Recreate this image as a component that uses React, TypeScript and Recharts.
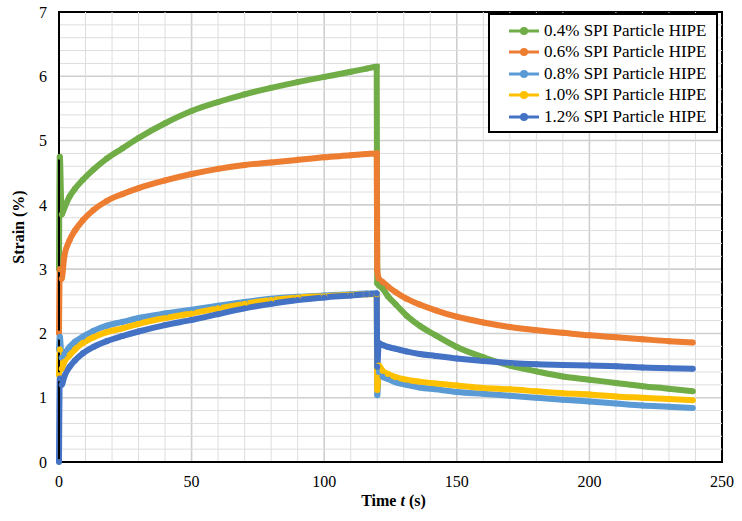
import React from "react";
import {
  LineChart,
  Line,
  XAxis,
  YAxis,
  CartesianGrid,
  Legend,
  ReferenceArea,
  ReferenceLine,
} from "recharts";

const SERIF = "'Times New Roman', 'Liberation Serif', serif";

// time (s), shared by every series
const times = [
  0, 0.3, 1, 2, 4, 6, 9, 13, 18, 24, 30, 40, 50, 60, 70, 80, 90, 100, 110, 116,
  119.8, 120, 120.6, 122, 124, 127, 131, 136, 142, 150, 160, 170, 180, 190, 200,
  210, 220, 230, 239,
];

// strain (%)
const spi04 = [
  3.0, 4.75, 3.85, 3.95, 4.13, 4.25, 4.39, 4.55, 4.72, 4.88, 5.04, 5.27, 5.46,
  5.6, 5.72, 5.82, 5.91, 5.99, 6.07, 6.12, 6.15, 2.78, 2.75, 2.7, 2.58, 2.45,
  2.28, 2.12, 1.97, 1.79, 1.63, 1.5, 1.41, 1.33, 1.28, 1.23, 1.18, 1.14, 1.1,
];
const spi06 = [
  2.0, 3.0, 2.85, 3.2, 3.45, 3.6, 3.76, 3.92, 4.06, 4.17, 4.26, 4.38, 4.48,
  4.56, 4.62, 4.66, 4.7, 4.74, 4.77, 4.79, 4.8, 2.99, 2.85, 2.8, 2.73, 2.64,
  2.54, 2.45, 2.36, 2.26, 2.17, 2.1, 2.05, 2.01, 1.97, 1.94, 1.91, 1.88, 1.86,
];
const spi08 = [
  1.75, 1.95, 1.62, 1.68, 1.79, 1.87, 1.95, 2.04, 2.12, 2.18, 2.24, 2.31, 2.37,
  2.43, 2.49, 2.54, 2.57, 2.59, 2.61, 2.62, 2.62, 1.04, 1.4, 1.33, 1.29, 1.24,
  1.2, 1.16, 1.13, 1.09, 1.06, 1.03, 1.0, 0.97, 0.94, 0.91, 0.88, 0.86, 0.84,
];
const spi10 = [
  1.35, 1.75, 1.45, 1.56, 1.66, 1.75, 1.85, 1.94, 2.02, 2.08, 2.15, 2.24, 2.31,
  2.39, 2.46, 2.52, 2.56, 2.58, 2.6, 2.61, 2.61, 1.12, 1.5, 1.42, 1.37, 1.32,
  1.28, 1.25, 1.22, 1.19, 1.15, 1.13, 1.1, 1.07, 1.05, 1.02, 1.0, 0.98, 0.96,
];
const spi12 = [
  0, 1.3, 1.2, 1.33, 1.48, 1.58, 1.69, 1.79, 1.88, 1.96, 2.03, 2.13, 2.21, 2.3,
  2.39, 2.46, 2.52, 2.56, 2.59, 2.61, 2.62, 1.48, 1.85, 1.82, 1.79, 1.76, 1.72,
  1.68, 1.65, 1.61, 1.57, 1.54, 1.52, 1.51, 1.5, 1.49, 1.47, 1.46, 1.45,
];

const xTicks = [0, 50, 100, 150, 200, 250];
const yTicks = [0, 1, 2, 3, 4, 5, 6, 7];
// minor gridlines between the major ones
const xMinorTicks = [10, 20, 30, 40, 60, 70, 80, 90, 110, 120, 130, 140, 160, 170, 180, 190, 210, 220, 230, 240];
const yMinorTicks = [0.2, 0.4, 0.6, 0.8, 1.2, 1.4, 1.6, 1.8, 2.2, 2.4, 2.6, 2.8, 3.2, 3.4, 3.6, 3.8, 4.2, 4.4, 4.6, 4.8, 5.2, 5.4, 5.6, 5.8, 6.2, 6.4, 6.6, 6.8];

const series = [
  { key: "spi04", name: "0.4% SPI Particle HIPE", color: "#70AD47", values: spi04 },
  { key: "spi06", name: "0.6% SPI Particle HIPE", color: "#ED7D31", values: spi06 },
  { key: "spi08", name: "0.8% SPI Particle HIPE", color: "#5B9BD5", values: spi08 },
  { key: "spi10", name: "1.0% SPI Particle HIPE", color: "#FFC000", values: spi10 },
  { key: "spi12", name: "1.2% SPI Particle HIPE", color: "#4472C4", values: spi12 },
];

const data = times.map((t, i) => {
  const row: Record<string, number> = { t };
  series.forEach((s) => {
    row[s.key] = s.values[i];
  });
  return row;
});

function LegendBox({ payload }: any) {
  return (
    <div
      style={{
        border: "2px solid #000",
        background: "#fff",
        padding: "5px 0 3px 19px",
        fontFamily: SERIF,
        fontSize: 17,
        color: "#000",
      }}
    >
      {(payload || []).map((p: any) => (
        <div key={p.value} style={{ display: "flex", alignItems: "center", height: 21.5 }}>
          <svg width={30} height={10} style={{ marginRight: 5 }}>
            <line x1={0} y1={5} x2={30} y2={5} stroke={p.color} strokeWidth={3} />
            <circle cx={15} cy={5} r={4} fill={p.color} />
          </svg>
          <span>{p.value}</span>
        </div>
      ))}
    </div>
  );
}

function XTitle({ viewBox }: any) {
  const { x, y, width } = viewBox;
  return (
    <text
      x={x + width / 2 + 3}
      y={y + 38}
      textAnchor="middle"
      dominantBaseline="central"
      fontFamily={SERIF}
      fontSize={16}
      fontWeight="bold"
      fill="#000"
    >
      Time <tspan fontStyle="italic">t</tspan> (s)
    </text>
  );
}

function YTitle({ viewBox }: any) {
  const { x, y, height } = viewBox;
  const cx = x + 18;
  const cy = y + height / 2 - 10;
  return (
    <text
      x={cx}
      y={cy}
      transform={`rotate(-90, ${cx}, ${cy})`}
      textAnchor="middle"
      dominantBaseline="central"
      fontFamily={SERIF}
      fontSize={16}
      fontWeight="bold"
      fill="#000"
    >
      Strain (%)
    </text>
  );
}

export default function App() {
  return (
    <div style={{ position: "fixed", left: 0, top: 0, width: 742, height: 521, background: "#fff" }}>
      <LineChart width={742} height={521} data={data} margin={{ top: 12, right: 20, left: 0, bottom: 0 }}>
        <XAxis
          dataKey="t"
          type="number"
          domain={[0, 250]}
          ticks={xTicks}
          height={59}
          tickLine={false}
          tickSize={0}
          tickMargin={14}
          axisLine={{ stroke: "#000", strokeWidth: 2 }}
          tick={{ fill: "#000", fontSize: 16, fontFamily: SERIF }}
          label={{ content: XTitle }}
        />
        <YAxis
          type="number"
          domain={[0, 7]}
          ticks={yTicks}
          width={59}
          tickLine={false}
          tickSize={0}
          tickMargin={12}
          axisLine={{ stroke: "#000", strokeWidth: 2 }}
          tick={{ fill: "#000", fontSize: 16, fontFamily: SERIF }}
          label={{ content: YTitle }}
        />
        {xMinorTicks.map((v) => (
          <ReferenceLine key={`mx${v}`} x={v} stroke="#dedede" strokeWidth={1} />
        ))}
        {yMinorTicks.map((v) => (
          <ReferenceLine key={`my${v}`} y={v} stroke="#dedede" strokeWidth={1} />
        ))}
        <CartesianGrid stroke="#cfcfcf" strokeWidth={1.6} />
        <ReferenceArea x1={0} x2={250} y1={0} y2={7} fill="none" stroke="#000" strokeWidth={2} />
        {series.map((s) => (
          <Line
            key={s.key}
            dataKey={s.key}
            name={s.name}
            type="monotone"
            stroke={s.color}
            strokeWidth={6}
            dot={{ r: 3, fill: s.color, stroke: s.color, strokeWidth: 0 }}
            activeDot={false}
            isAnimationActive={false}
          />
        ))}
        <Legend
          layout="horizontal"
          verticalAlign="middle"
          align="center"
          content={LegendBox}
          wrapperStyle={{ position: "absolute", left: 488, top: 13, width: 230, height: "auto" }}
        />
      </LineChart>
    </div>
  );
}
